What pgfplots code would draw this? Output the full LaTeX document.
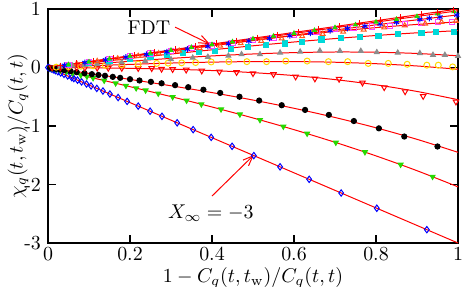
\documentclass[border=0pt]{standalone}
\usepackage{pgfplots}
\pgfplotsset{compat=1.18}
\usetikzlibrary{arrows.meta}
\definecolor{mgreen}{rgb}{0.15,0.85,0.0}
\definecolor{myellow}{rgb}{1.0,0.85,0.0}
\definecolor{mgray}{rgb}{0.55,0.55,0.55}
\definecolor{mcyan}{rgb}{0.0,0.85,0.85}
\definecolor{mpink}{rgb}{1.0,0.25,1.0}
\definecolor{morange}{rgb}{1.0,0.35,0.1}
\begin{document}
\begin{tikzpicture}
\begin{axis}[
  scale only axis, width=205bp, height=117bp,
  xmin=0, xmax=1, ymin=-3, ymax=1,
  xtick={0,0.2,0.4,0.6,0.8,1},
  xticklabels={0,0.2,0.4,0.6,0.8,1},
  ytick={-3,-2,-1,0,1},
  yticklabels={-3,-2,-1,0,1},
  tick align=inside, major tick length=4bp,
  tick style={black, line width=0.6pt},
  axis line style={line width=0.6pt},
  xlabel={$1-C_q(t,t_{\mathrm{w}})/C_q(t,t)$},
  ylabel={$\chi_q(t,t_{\mathrm{w}})/C_q(t,t)$},
  xlabel style={at={(axis description cs:0.5,0)}, anchor=center, yshift=-17.5bp, inner ysep=0.5pt},
  ylabel style={at={(axis description cs:-0.0732,0.5)}, anchor=center},
  xticklabel style={inner ysep=2pt},
  every axis plot/.append style={line width=0.5pt},
  mark size=1.3pt,
]
\coordinate (sw) at (rel axis cs:0,0);
\coordinate (ne) at (rel axis cs:1,1);
% ---- data markers ----
% blue diamonds (X = -3)
\addplot[only marks, blue, mark=diamond, mark size=1.6pt] coordinates {
(0,0) (0.004,-0.012) (0.008,-0.024) (0.013,-0.039) (0.018,-0.054) (0.024,-0.072)
(0.031,-0.093) (0.039,-0.117) (0.048,-0.144) (0.058,-0.174) (0.063,-0.189)
(0.072,-0.216) (0.082,-0.246) (0.094,-0.282) (0.105,-0.315) (0.119,-0.357)
(0.134,-0.402) (0.151,-0.453) (0.171,-0.513) (0.193,-0.579) (0.220,-0.66)
(0.249,-0.747) (0.278,-0.834) (0.315,-0.945) (0.354,-1.062) (0.398,-1.194)
(0.449,-1.347) (0.502,-1.506) (0.566,-1.698) (0.637,-1.911) (0.715,-2.145)
(0.802,-2.406) (0.924,-2.772)};
% green filled inverted triangles
\addplot[only marks, mgreen, mark=triangle*, mark options={rotate=180}, mark size=1.4pt] coordinates {
(0.005,-0.008) (0.01,-0.016) (0.02,-0.032) (0.03,-0.049) (0.045,-0.073) (0.06,-0.097)
(0.08,-0.130) (0.095,-0.154) (0.11,-0.179) (0.137,-0.223) (0.165,-0.269) (0.19,-0.311)
(0.215,-0.353) (0.238,-0.391) (0.269,-0.444) (0.304,-0.504) (0.338,-0.564) (0.374,-0.628)
(0.422,-0.715) (0.468,-0.801) (0.517,-0.896) (0.574,-1.009) (0.632,-1.130) (0.702,-1.283)
(0.773,-1.446) (0.860,-1.660) (0.938,-1.866)};
% black dots
\addplot[only marks, black, mark=*, mark size=1.3pt] coordinates {
(0.005,-0.006) (0.012,-0.014) (0.02,-0.023) (0.03,-0.034) (0.04,-0.045) (0.055,-0.062)
(0.07,-0.08) (0.089,-0.097) (0.107,-0.114) (0.123,-0.128) (0.139,-0.142) (0.158,-0.16)
(0.176,-0.177) (0.2,-0.2) (0.223,-0.222) (0.251,-0.245) (0.277,-0.27) (0.31,-0.302)
(0.342,-0.337) (0.379,-0.38) (0.42,-0.435) (0.467,-0.5) (0.515,-0.565) (0.570,-0.645)
(0.627,-0.725) (0.685,-0.81) (0.746,-0.915) (0.807,-1.04) (0.869,-1.18) (0.95,-1.35)};
% red open inverted triangles
\addplot[only marks, red, mark=triangle, mark options={rotate=180}, mark size=1.6pt] coordinates {
(0.01,-0.001) (0.03,-0.002) (0.05,-0.003) (0.07,-0.004) (0.09,-0.005) (0.12,-0.006)
(0.147,-0.008) (0.18,-0.01) (0.22,-0.012) (0.253,-0.014) (0.277,-0.025) (0.304,-0.03)
(0.337,-0.04) (0.375,-0.055) (0.418,-0.07) (0.46,-0.08) (0.5,-0.1) (0.55,-0.116)
(0.604,-0.157) (0.651,-0.19) (0.71,-0.197) (0.767,-0.26) (0.82,-0.34) (0.871,-0.41)
(0.915,-0.49) (0.995,-0.585)};
% yellow open circles
\addplot[only marks, myellow, mark=o, mark size=1.5pt] coordinates {
(0.02,0.006) (0.05,0.014) (0.08,0.022) (0.11,0.03) (0.14,0.038) (0.18,0.048) (0.22,0.058)
(0.265,0.07) (0.293,0.075) (0.326,0.08) (0.36,0.085) (0.398,0.095) (0.441,0.1) (0.485,0.1)
(0.533,0.1) (0.58,0.11) (0.632,0.11) (0.684,0.10) (0.731,0.10) (0.781,0.07) (0.830,0.07)
(0.876,0.055) (0.924,0.04) (0.952,0.04) (0.987,0.01)};
% gray filled triangles
\addplot[only marks, mgray, mark=triangle*, mark size=1.4pt] coordinates {
(0.03,0.015) (0.06,0.03) (0.09,0.044) (0.12,0.058) (0.147,0.07) (0.18,0.086) (0.237,0.11)
(0.30,0.14) (0.353,0.165) (0.39,0.18) (0.44,0.2) (0.472,0.225) (0.517,0.225) (0.566,0.253)
(0.615,0.27) (0.663,0.287) (0.712,0.282) (0.763,0.282) (0.802,0.26) (0.853,0.253)
(0.907,0.243) (0.939,0.214) (0.968,0.214) (1.0,0.197)};
% cyan filled squares
\addplot[only marks, mcyan, mark=square*, mark size=1.3pt] coordinates {
(0.05,0.037) (0.1,0.074) (0.15,0.11) (0.2,0.147) (0.25,0.183) (0.29,0.213) (0.33,0.243)
(0.369,0.26) (0.407,0.282) (0.446,0.31) (0.487,0.345) (0.532,0.385) (0.578,0.41) (0.62,0.44)
(0.667,0.48) (0.714,0.5) (0.761,0.527) (0.806,0.544) (0.854,0.573) (0.911,0.595)
(0.946,0.60) (0.99,0.60)};
% pink open squares
\addplot[only marks, mpink, mark=square, mark size=1.3pt] coordinates {
(0.05,0.048) (0.1,0.096) (0.15,0.144) (0.2,0.19) (0.25,0.24) (0.3,0.285) (0.35,0.33)
(0.4,0.375) (0.45,0.42) (0.5,0.465) (0.55,0.51) (0.6,0.56) (0.655,0.61) (0.7,0.653)
(0.745,0.68) (0.79,0.70) (0.834,0.715) (0.871,0.744) (0.911,0.766) (0.952,0.783) (0.985,0.783)};
% orange open triangles
\addplot[only marks, morange, mark=triangle, mark size=1.4pt] coordinates {
(0.07,0.063) (0.12,0.108) (0.17,0.153) (0.22,0.197) (0.27,0.241) (0.32,0.285) (0.37,0.328)
(0.42,0.371) (0.47,0.413) (0.52,0.454) (0.57,0.495) (0.62,0.534) (0.67,0.573) (0.72,0.611)
(0.77,0.647) (0.82,0.683) (0.87,0.717) (0.92,0.750) (0.96,0.776) (0.995,0.797)};
% blue asterisks
\addplot[only marks, blue, mark=asterisk, mark size=1.5pt] coordinates {
(0.04,0.037) (0.09,0.084) (0.14,0.130) (0.19,0.177) (0.24,0.223) (0.29,0.269) (0.34,0.315)
(0.39,0.361) (0.44,0.407) (0.49,0.452) (0.54,0.497) (0.59,0.543) (0.64,0.587) (0.688,0.63)
(0.73,0.667) (0.773,0.705) (0.81,0.743) (0.85,0.772) (0.907,0.821) (0.93,0.841)
(0.956,0.863) (0.997,0.897)};
% green small triangles (top)
\addplot[only marks, mgreen, mark=triangle*, mark size=1.1pt] coordinates {
(0.05,0.049) (0.1,0.098) (0.15,0.148) (0.2,0.197) (0.25,0.246) (0.3,0.295) (0.35,0.344)
(0.4,0.393) (0.45,0.441) (0.5,0.490) (0.55,0.538) (0.6,0.587) (0.65,0.635) (0.7,0.683)
(0.75,0.730) (0.8,0.778) (0.85,0.825) (0.9,0.872) (0.95,0.919) (0.99,0.955)};
% red plus
\addplot[only marks, red, mark=+, mark size=1.6pt] coordinates {
(0.03,0.03) (0.07,0.07) (0.11,0.11) (0.16,0.159) (0.21,0.209) (0.26,0.259) (0.31,0.308)
(0.36,0.358) (0.41,0.408) (0.46,0.458) (0.51,0.507) (0.56,0.557) (0.61,0.607) (0.66,0.657)
(0.71,0.706) (0.76,0.756) (0.81,0.806) (0.86,0.856) (0.91,0.905) (0.95,0.945) (0.99,0.985)};
% ---- red curves ----
\addplot[red, smooth] coordinates {(0,0) (1,1)};
\addplot[red, smooth] coordinates {(0,0) (0.2,0.194) (0.4,0.388) (0.6,0.582) (0.8,0.776) (1,0.97)};
\addplot[red, smooth] coordinates {(0,0) (0.1,0.093) (0.2,0.186) (0.3,0.278) (0.4,0.370) (0.5,0.461) (0.6,0.552) (0.7,0.641) (0.8,0.729) (0.9,0.815) (1,0.90)};
\addplot[red, smooth] coordinates {(0,0) (0.1,0.098) (0.2,0.194) (0.3,0.289) (0.4,0.379) (0.5,0.465) (0.6,0.545) (0.7,0.617) (0.8,0.682) (0.9,0.736) (1,0.78)};
\addplot[red, smooth] coordinates {(0,0) (0.1,0.078) (0.2,0.155) (0.3,0.230) (0.4,0.302) (0.5,0.371) (0.6,0.436) (0.7,0.495) (0.8,0.547) (0.9,0.593) (1,0.63)};
\addplot[red, smooth] coordinates {(0,0) (0.1,0.0547) (0.2,0.1072) (0.3,0.1556) (0.4,0.1976) (0.5,0.2313) (0.6,0.2544) (0.7,0.2650) (0.8,0.2608) (0.9,0.2399) (1,0.20)};
\addplot[red, smooth] coordinates {(0,0) (0.1,0.028) (0.2,0.053) (0.3,0.076) (0.4,0.092) (0.5,0.101) (0.6,0.101) (0.7,0.090) (0.8,0.065) (0.9,0.026) (1,-0.03)};
\addplot[red, smooth] coordinates {(0,0) (0.1,-0.0055) (0.2,-0.014) (0.3,-0.0285) (0.4,-0.052) (0.5,-0.0875) (0.6,-0.138) (0.7,-0.2065) (0.8,-0.296) (0.9,-0.4095) (1,-0.55)};
\addplot[red, smooth] coordinates {(0,0) (0.1,-0.1005) (0.2,-0.2036) (0.3,-0.3122) (0.4,-0.4288) (0.5,-0.5563) (0.6,-0.6972) (0.7,-0.8544) (0.8,-1.0304) (0.9,-1.228) (1,-1.45)};
\addplot[red, smooth] coordinates {(0,0) (0.1,-0.1624) (0.2,-0.3274) (0.3,-0.4973) (0.4,-0.6749) (0.5,-0.8625) (0.6,-1.0627) (0.7,-1.2781) (0.8,-1.511) (0.9,-1.764) (1,-2.04)};
\addplot[red] coordinates {(0,0) (1,-3)};
% ---- annotations ----
\node at (axis cs:0.246,0.675) {FDT};
\draw[red, line width=0.5pt, -{Straight Barb[length=5pt,width=4pt]}] (axis cs:0.31,0.69) -- (axis cs:0.395,0.40);
\node at (axis cs:0.397,-2.49) {$X_\infty=-3$};
\draw[red, line width=0.5pt, -{Straight Barb[length=5pt,width=4pt]}] (axis cs:0.40,-2.197) -- (axis cs:0.502,-1.496);
\end{axis}
\pgfresetboundingbox
\useasboundingbox ([xshift=-24bp,yshift=-22bp]sw) rectangle ([xshift=2.5bp,yshift=4.5bp]ne);
\end{tikzpicture}
\end{document}
